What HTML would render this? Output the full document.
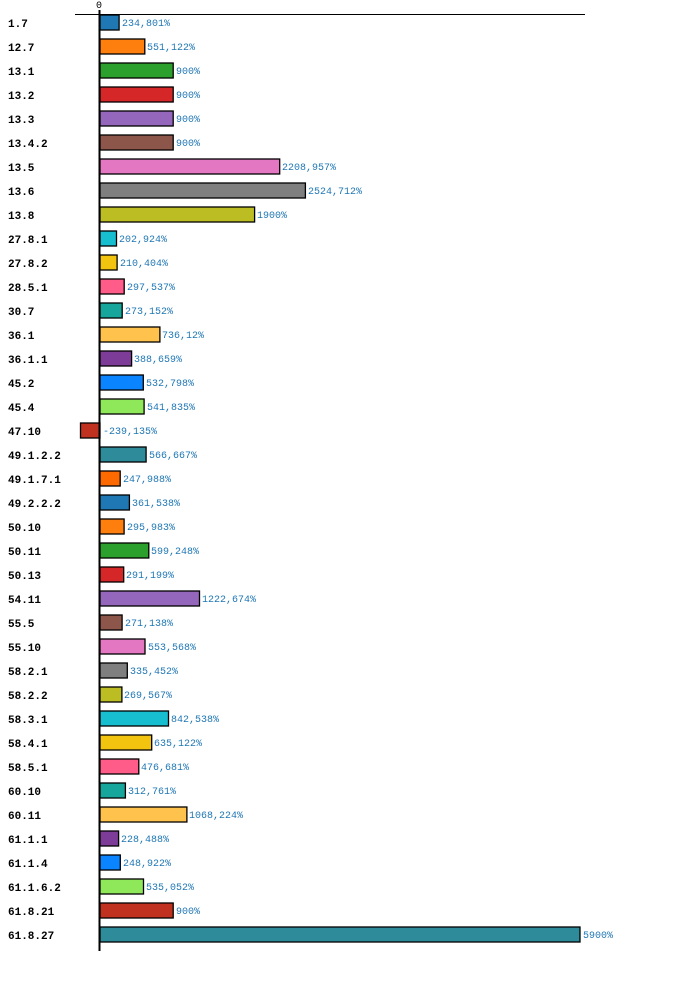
<!DOCTYPE html>
<html><head><meta charset="utf-8"><style>
html,body{margin:0;padding:0;background:#fff;width:700px;height:981px;overflow:hidden}
.l{font:bold 11px "Liberation Mono",monospace;fill:#000}
.v{font:10px "Liberation Mono",monospace;fill:#1f77b4}
rect{stroke:#000;stroke-width:1.3}
</style></head><body>
<svg width="700" height="981" xmlns="http://www.w3.org/2000/svg">
<line x1="75" y1="14.5" x2="585" y2="14.5" stroke="#000" stroke-width="1"/>
<text x="99" y="8" text-anchor="middle" style="font:10px 'Liberation Mono',monospace">0</text>
<g>
<rect x="100" y="15" width="19.1" height="15" fill="#1f77b4"/>
<rect x="100" y="39" width="44.8" height="15" fill="#ff7f0e"/>
<rect x="100" y="63" width="73.2" height="15" fill="#2ca02c"/>
<rect x="100" y="87" width="73.2" height="15" fill="#d62728"/>
<rect x="100" y="111" width="73.2" height="15" fill="#9467bd"/>
<rect x="100" y="135" width="73.2" height="15" fill="#8c564b"/>
<rect x="100" y="159" width="179.7" height="15" fill="#e377c2"/>
<rect x="100" y="183" width="205.4" height="15" fill="#7f7f7f"/>
<rect x="100" y="207" width="154.6" height="15" fill="#bcbd22"/>
<rect x="100" y="231" width="16.5" height="15" fill="#17becf"/>
<rect x="100" y="255" width="17.1" height="15" fill="#f2c40f"/>
<rect x="100" y="279" width="24.2" height="15" fill="#ff5c8a"/>
<rect x="100" y="303" width="22.2" height="15" fill="#17a69b"/>
<rect x="100" y="327" width="59.9" height="15" fill="#ffc34d"/>
<rect x="100" y="351" width="31.6" height="15" fill="#7d3c98"/>
<rect x="100" y="375" width="43.3" height="15" fill="#0a84ff"/>
<rect x="100" y="399" width="44.1" height="15" fill="#8ee85a"/>
<rect x="80.5" y="423" width="19.5" height="15" fill="#c0321f"/>
<rect x="100" y="447" width="46.1" height="15" fill="#2e8b9a"/>
<rect x="100" y="471" width="20.2" height="15" fill="#ff6a00"/>
<rect x="100" y="495" width="29.4" height="15" fill="#1f77b4"/>
<rect x="100" y="519" width="24.1" height="15" fill="#ff7f0e"/>
<rect x="100" y="543" width="48.8" height="15" fill="#2ca02c"/>
<rect x="100" y="567" width="23.7" height="15" fill="#d62728"/>
<rect x="100" y="591" width="99.5" height="15" fill="#9467bd"/>
<rect x="100" y="615" width="22.1" height="15" fill="#8c564b"/>
<rect x="100" y="639" width="45.0" height="15" fill="#e377c2"/>
<rect x="100" y="663" width="27.3" height="15" fill="#7f7f7f"/>
<rect x="100" y="687" width="21.9" height="15" fill="#bcbd22"/>
<rect x="100" y="711" width="68.5" height="15" fill="#17becf"/>
<rect x="100" y="735" width="51.7" height="15" fill="#f2c40f"/>
<rect x="100" y="759" width="38.8" height="15" fill="#ff5c8a"/>
<rect x="100" y="783" width="25.4" height="15" fill="#17a69b"/>
<rect x="100" y="807" width="86.9" height="15" fill="#ffc34d"/>
<rect x="100" y="831" width="18.6" height="15" fill="#7d3c98"/>
<rect x="100" y="855" width="20.3" height="15" fill="#0a84ff"/>
<rect x="100" y="879" width="43.5" height="15" fill="#8ee85a"/>
<rect x="100" y="903" width="73.2" height="15" fill="#c0321f"/>
<rect x="100" y="927" width="480" height="15" fill="#2e8b9a"/>
</g>
<line x1="99.5" y1="10" x2="99.5" y2="951" stroke="#000" stroke-width="2"/>
<g class="l">
<text class="l" x="8" y="27">1.7</text>
<text class="l" x="8" y="51">12.7</text>
<text class="l" x="8" y="75">13.1</text>
<text class="l" x="8" y="99">13.2</text>
<text class="l" x="8" y="123">13.3</text>
<text class="l" x="8" y="147">13.4.2</text>
<text class="l" x="8" y="171">13.5</text>
<text class="l" x="8" y="195">13.6</text>
<text class="l" x="8" y="219">13.8</text>
<text class="l" x="8" y="243">27.8.1</text>
<text class="l" x="8" y="267">27.8.2</text>
<text class="l" x="8" y="291">28.5.1</text>
<text class="l" x="8" y="315">30.7</text>
<text class="l" x="8" y="339">36.1</text>
<text class="l" x="8" y="363">36.1.1</text>
<text class="l" x="8" y="387">45.2</text>
<text class="l" x="8" y="411">45.4</text>
<text class="l" x="8" y="435">47.10</text>
<text class="l" x="8" y="459">49.1.2.2</text>
<text class="l" x="8" y="483">49.1.7.1</text>
<text class="l" x="8" y="507">49.2.2.2</text>
<text class="l" x="8" y="531">50.10</text>
<text class="l" x="8" y="555">50.11</text>
<text class="l" x="8" y="579">50.13</text>
<text class="l" x="8" y="603">54.11</text>
<text class="l" x="8" y="627">55.5</text>
<text class="l" x="8" y="651">55.10</text>
<text class="l" x="8" y="675">58.2.1</text>
<text class="l" x="8" y="699">58.2.2</text>
<text class="l" x="8" y="723">58.3.1</text>
<text class="l" x="8" y="747">58.4.1</text>
<text class="l" x="8" y="771">58.5.1</text>
<text class="l" x="8" y="795">60.10</text>
<text class="l" x="8" y="819">60.11</text>
<text class="l" x="8" y="843">61.1.1</text>
<text class="l" x="8" y="867">61.1.4</text>
<text class="l" x="8" y="891">61.1.6.2</text>
<text class="l" x="8" y="915">61.8.21</text>
<text class="l" x="8" y="939">61.8.27</text>
</g>
<g>
<text class="v" x="122" y="26">234,801%</text>
<text class="v" x="147" y="50">551,122%</text>
<text class="v" x="176" y="74">900%</text>
<text class="v" x="176" y="98">900%</text>
<text class="v" x="176" y="122">900%</text>
<text class="v" x="176" y="146">900%</text>
<text class="v" x="282" y="170">2208,957%</text>
<text class="v" x="308" y="194">2524,712%</text>
<text class="v" x="257" y="218">1900%</text>
<text class="v" x="119" y="242">202,924%</text>
<text class="v" x="120" y="266">210,404%</text>
<text class="v" x="127" y="290">297,537%</text>
<text class="v" x="125" y="314">273,152%</text>
<text class="v" x="162" y="338">736,12%</text>
<text class="v" x="134" y="362">388,659%</text>
<text class="v" x="146" y="386">532,798%</text>
<text class="v" x="147" y="410">541,835%</text>
<text class="v" x="103" y="434">-239,135%</text>
<text class="v" x="149" y="458">566,667%</text>
<text class="v" x="123" y="482">247,988%</text>
<text class="v" x="132" y="506">361,538%</text>
<text class="v" x="127" y="530">295,983%</text>
<text class="v" x="151" y="554">599,248%</text>
<text class="v" x="126" y="578">291,199%</text>
<text class="v" x="202" y="602">1222,674%</text>
<text class="v" x="125" y="626">271,138%</text>
<text class="v" x="148" y="650">553,568%</text>
<text class="v" x="130" y="674">335,452%</text>
<text class="v" x="124" y="698">269,567%</text>
<text class="v" x="171" y="722">842,538%</text>
<text class="v" x="154" y="746">635,122%</text>
<text class="v" x="141" y="770">476,681%</text>
<text class="v" x="128" y="794">312,761%</text>
<text class="v" x="189" y="818">1068,224%</text>
<text class="v" x="121" y="842">228,488%</text>
<text class="v" x="123" y="866">248,922%</text>
<text class="v" x="146" y="890">535,052%</text>
<text class="v" x="176" y="914">900%</text>
<text class="v" x="583" y="938">5900%</text>
</g>
</svg>
</body></html>
